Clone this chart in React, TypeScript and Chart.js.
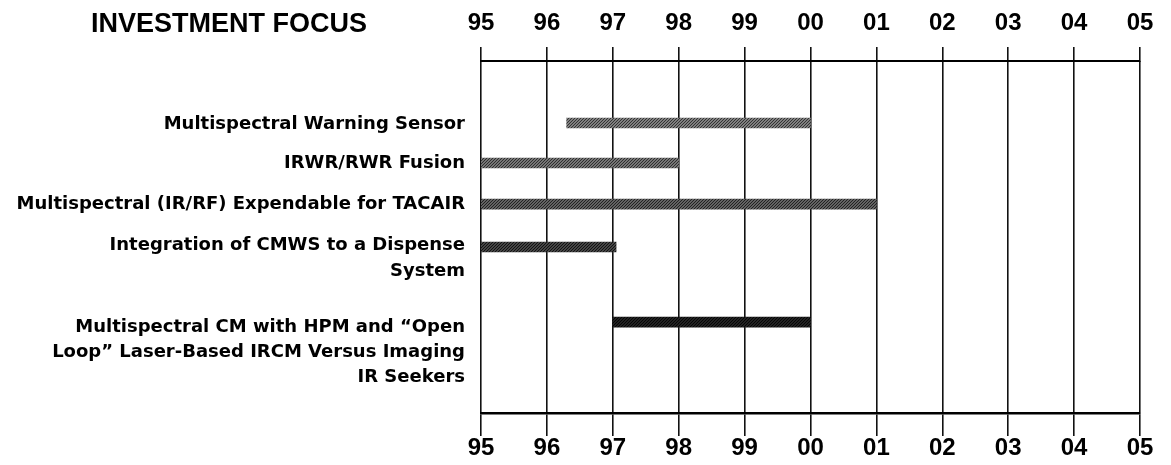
import React, { useEffect, useRef } from "react";
import { Chart, registerables } from "chart.js";

Chart.register(...registerables);

const chartTitle = "INVESTMENT FOCUS";
const programLabels: string[][] = [
  ["Multispectral Warning Sensor"],
  ["IRWR/RWR Fusion"],
  ["Multispectral (IR/RF) Expendable for TACAIR"],
  ["Integration of CMWS to a Dispense", "System"],
  ["Multispectral CM with HPM and \u201COpen", "Loop\u201D Laser-Based IRCM Versus Imaging", "IR Seekers"],
];
const startYears = [96.3, 95, 95, 95, 97];
const endYears = [100, 98, 101, 97.05, 100];
const rowPositions = [1.55, 2.55, 3.58, 4.65, 6.53];
const labelFirstLines = [1.58, 2.55, 3.58, 4.62, 6.66];
const yearTicks = [95, 96, 97, 98, 99, 100, 101, 102, 103, 104, 105];
const yearLabels = ["95", "96", "97", "98", "99", "00", "01", "02", "03", "04", "05"];

const barStyles: [string, string][] = [
  ["#808080", "#333333"],
  ["#767676", "#2e2e2e"],
  ["#636363", "#222222"],
  ["#454545", "#121212"],
  ["#222222", "#060606"],
];

function hatch(base: string, ink: string): CanvasPattern | string {
  const c = document.createElement("canvas");
  c.width = 3;
  c.height = 3;
  const g = c.getContext("2d");
  if (!g) return base;
  g.fillStyle = base;
  g.fillRect(0, 0, 3, 3);
  g.fillStyle = ink;
  for (let i = 0; i < 3; i++) g.fillRect(i, 2 - i, 1, 1);
  const p = g.createPattern(c, "repeat");
  return p || base;
}

const tickFont = { family: "'Liberation Sans Narrow', 'Liberation Sans', Arial, sans-serif", size: 24, weight: "bold" as const, lineHeight: 1 };
const labelFont = { family: "'DejaVu Sans', sans-serif", size: 18, weight: "bold" as const, lineHeight: 1.4 };
const LINE_STEP = 0.63;

export default function App() {
  const ref = useRef<HTMLCanvasElement | null>(null);

  useEffect(() => {
    document.body.style.margin = "0";
    if (!ref.current) return;

    const titlePlugin = {
      id: "focusTitle",
      afterDraw(chart: any) {
        const ctx = chart.ctx;
        ctx.save();
        ctx.fillStyle = "#000";
        ctx.font = "bold 27px 'Liberation Sans', Arial, sans-serif";
        ctx.textAlign = "left";
        ctx.textBaseline = "alphabetic";
        ctx.fillText(chartTitle, 91, 32);
        ctx.restore();
      },
    };

    const chart = new Chart(ref.current, {
      type: "bar",
      data: {
        datasets: [
          {
            data: rowPositions.map((r, i) => ({ x: [startYears[i], endYears[i]], y: r })) as any,
            backgroundColor: barStyles.map(([b, k]) => hatch(b, k)) as any,
            borderWidth: 0,
            barThickness: 10,
          },
        ],
      },
      options: {
        indexAxis: "y",
        animation: false,
        responsive: true,
        maintainAspectRatio: false,
        layout: { padding: { left: 0, right: 31, top: 0, bottom: 0 } },
        plugins: { legend: { display: false }, tooltip: { enabled: false } },
        scales: {
          x: {
            type: "linear",
            position: "bottom",
            min: 95,
            max: 105,
            beginAtZero: false,
            afterBuildTicks: (s: any) => {
              s.ticks = yearTicks.map((v) => ({ value: v }));
            },
            afterFit: (s: any) => {
              s.height = 52;
            },
            ticks: {
              callback: (_v: any, i: number) => yearLabels[i],
              font: tickFont,
              color: "#000",
              padding: 0,
              maxRotation: 0,
              autoSkip: false,
            },
            grid: { color: "#111", lineWidth: 1.6, tickLength: 23, drawTicks: true },
            border: { display: true, color: "#000", width: 2.5 },
          },
          x2: {
            type: "linear",
            position: "top",
            min: 95,
            max: 105,
            afterBuildTicks: (s: any) => {
              s.ticks = yearTicks.map((v) => ({ value: v }));
            },
            afterFit: (s: any) => {
              s.height = 61;
            },
            ticks: {
              callback: (_v: any, i: number) => yearLabels[i],
              font: tickFont,
              color: "#000",
              padding: 12,
              maxRotation: 0,
              autoSkip: false,
            },
            grid: { color: "#111", lineWidth: 1.6, tickLength: 14, drawOnChartArea: false, drawTicks: true },
            border: { display: true, color: "#000", width: 2 },
          },
          y: {
            type: "linear",
            position: "left",
            min: 0,
            max: 8.8,
            reverse: true,
            offset: false,
            afterBuildTicks: (s: any) => {
              s.ticks = labelFirstLines.map((r, i) => ({ value: r + ((programLabels[i].length - 1) * LINE_STEP) / 2 }));
            },
            afterFit: (s: any) => {
              s.width = 481;
            },
            ticks: {
              callback: (_v: any, i: number) => programLabels[i],
              font: labelFont,
              color: "#000",
              padding: 16,
              autoSkip: false,
            },
            grid: { display: false, drawTicks: false, offset: false },
            border: { display: false },
          },
        },
      },
      plugins: [titlePlugin],
    } as any);

    return () => chart.destroy();
  }, []);

  return (
    <div style={{ width: 1171, height: 465, position: "relative", background: "#fff" }}>
      <canvas ref={ref} />
    </div>
  );
}
